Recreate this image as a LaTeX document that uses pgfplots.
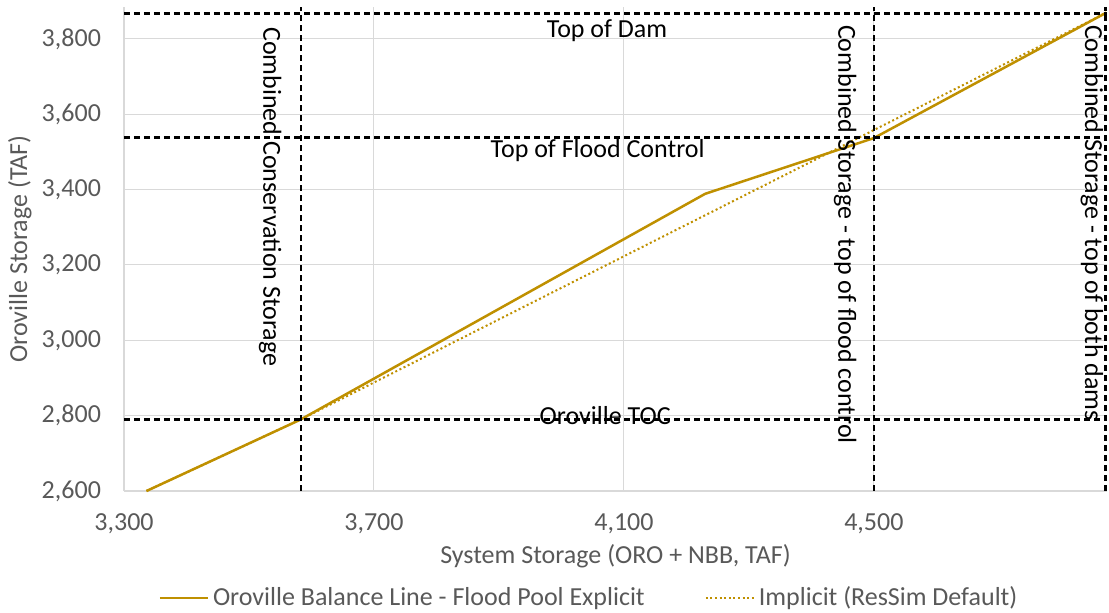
\documentclass[border=0pt]{standalone}
\usepackage{fontspec}
\setmainfont{Carlito}
\usepackage{pgfplots}
\pgfplotsset{compat=1.18}

\definecolor{gold}{HTML}{BF9000}
\definecolor{txtgray}{HTML}{595959}
\definecolor{gridgray}{HTML}{D9D9D9}

\begin{document}
\begin{tikzpicture}
\path[use as bounding box] (0,0) rectangle (554.5pt,306.5pt);
\begin{axis}[
    at={(62pt,61pt)}, anchor=south west,
    scale only axis,
    width=491.5pt, height=242pt,
    xmin=3300, xmax=4873,
    ymin=2600, ymax=3885,
    xtick={3300,3700,4100,4500},
    ytick={2600,2800,3000,3200,3400,3600,3800},
    axis lines*=left,
    axis line style={draw=gridgray, line width=0.8pt},
    major tick length=0pt,
    grid=major,
    major grid style={draw=gridgray, line width=0.5pt},
    clip=false,
    font=\fontsize{13}{15.5}\selectfont,
    tick label style={text=txtgray, font=\fontsize{13}{15.5}\selectfont},
    /pgf/number format/.cd, 1000 sep={,}, assume math mode=true,
    /pgfplots/.cd,
    xticklabel style={yshift=-8pt},
    yticklabel style={xshift=-8pt},
    xlabel={System Storage (ORO + NBB, TAF)},
    ylabel={Oroville Storage (TAF)},
    every axis x label/.style={at={(axis description cs:0.5,-0.134)}, anchor=center, text=txtgray, font=\fontsize{13}{15.5}\selectfont},
    every axis y label/.style={at={(axis description cs:-0.106,0.5)}, rotate=90, anchor=center, text=txtgray, font=\fontsize{13}{15.5}\selectfont},
    legend columns=2,
    legend style={at={(axis description cs:0.474,-0.221)}, anchor=center, draw=none, fill=none,
        text=txtgray, font=\fontsize{13}{15.5}\selectfont,
        /tikz/every even column/.append style={column sep=28pt}},
    legend cell align=left,
    legend image code/.code={\draw[#1] (0pt,0pt) -- (24pt,0pt);},
]

% balance lines
\addplot[gold, line width=1.25pt] coordinates {
    (3336,2600) (3583,2790) (4230,3389) (4500,3537) (4872,3870)
};
\addlegendentry{Oroville Balance Line - Flood Pool Explicit}

\addplot[gold, line width=1pt, dash pattern=on 1pt off 1.3pt] coordinates {
    (3336,2600) (3583,2790) (4872,3870)
};
\addlegendentry{Implicit (ResSim Default)}

% reference lines
\pgfplotsset{refline/.style={black, line width=1.3pt, dash pattern=on 3pt off 2pt, forget plot}}
\addplot[refline] coordinates {(3300,3868) (4873,3868)};
\addplot[refline] coordinates {(3300,3538) (4873,3538)};
\addplot[refline] coordinates {(3300,2789) (4873,2789)};
\addplot[refline] coordinates {(3583,2600) (3583,3885)};
\addplot[refline] coordinates {(4500,2600) (4500,3885)};
\addplot[refline] coordinates {(4871,2600) (4871,3885)};

% annotations
\node[anchor=center] at (axis cs:4073,3821) {Top of Dam};
\node[anchor=center] at (axis cs:4058,3505) {Top of Flood Control};
\node[anchor=center] at (axis cs:4070,2799) {Oroville TOC};
\node[rotate=-90, anchor=west, inner sep=0pt] at (axis cs:3534,3832) {Combined Conservation Storage};
\node[rotate=-90, anchor=west, inner sep=0pt] at (axis cs:4454,3838) {Combined Storage - top of flood control};
\node[rotate=-90, anchor=west, inner sep=0pt] at (axis cs:4849,3838) {Combined Storage - top of both dams};
\end{axis}
\end{tikzpicture}
\end{document}
